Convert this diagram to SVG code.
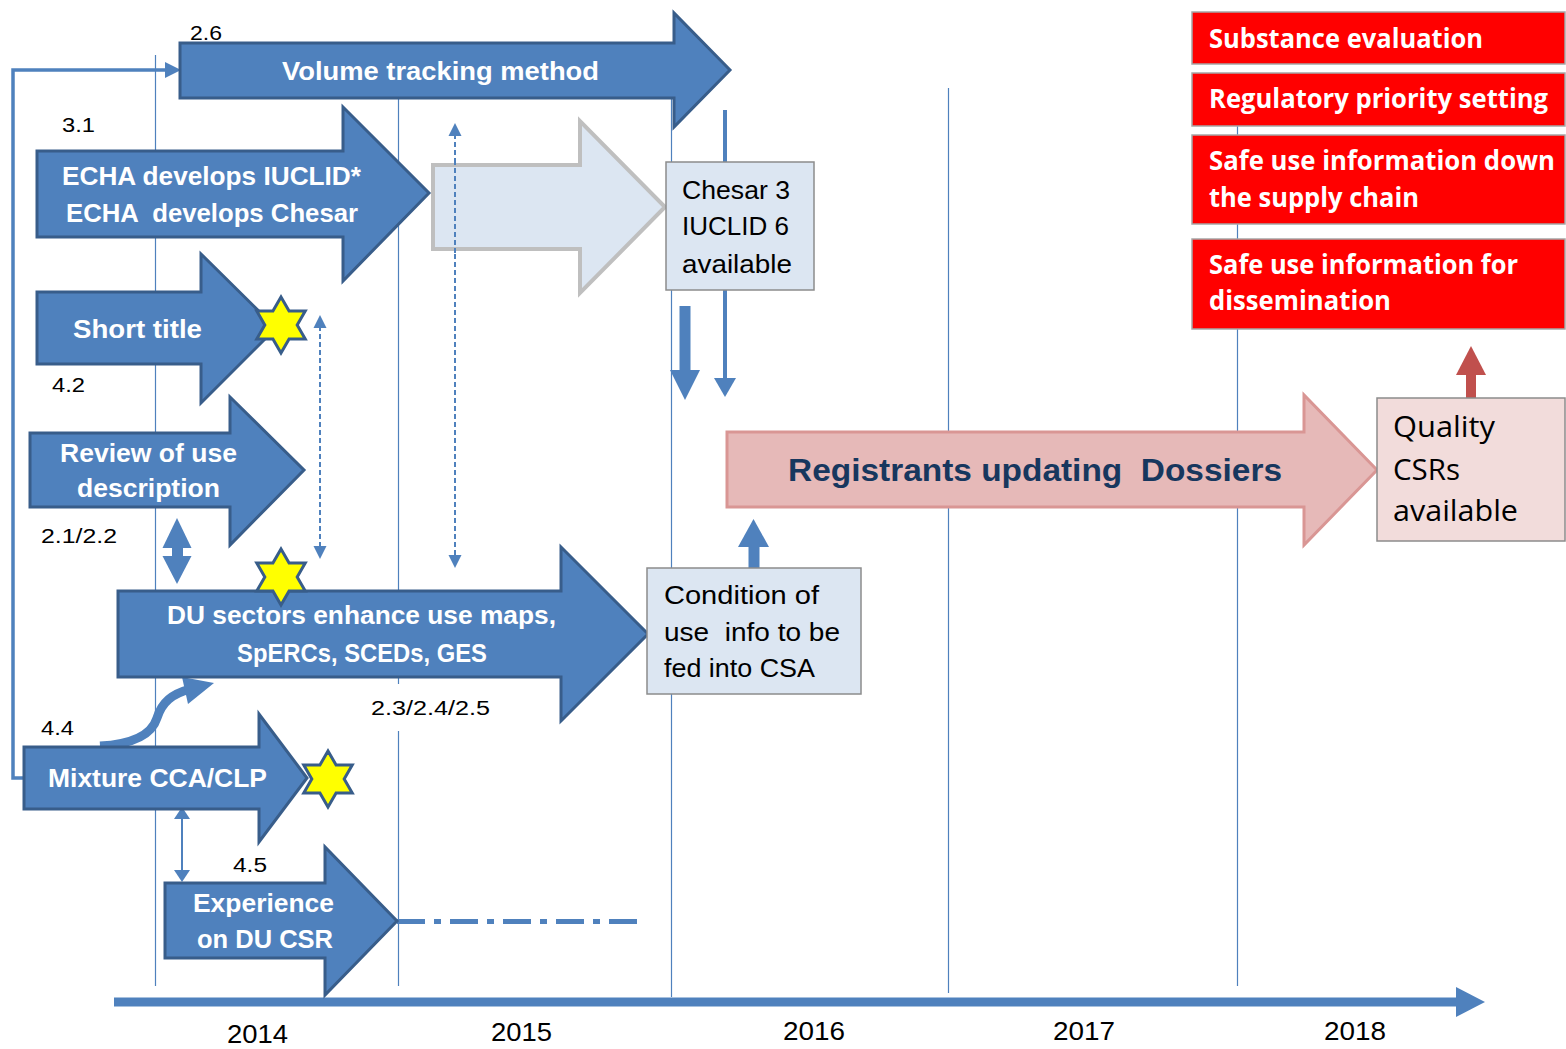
<svg xmlns="http://www.w3.org/2000/svg" width="1566" height="1049" viewBox="0 0 1566 1049">
<style>
.grid{stroke:#4f81bd;stroke-width:1.2;fill:none}
.barrow{fill:#4f81bd;stroke:#385d8a;stroke-width:3;stroke-linejoin:miter}
.wt{fill:#fff;font-family:"Liberation Sans",Arial,sans-serif;font-weight:bold;font-size:26px}
.bt{fill:#000;font-family:"Liberation Sans",Arial,sans-serif;font-size:26px}
.lbl{fill:#000;font-family:"Liberation Sans",Arial,sans-serif;font-size:20px}
.yr{fill:#000;font-family:"Liberation Sans",Arial,sans-serif;font-size:26px}
.rt{fill:#fff;font-family:"Open Sans","Liberation Sans",sans-serif;font-weight:bold;font-size:26px}
.qt{fill:#000;font-family:"Open Sans","Liberation Sans",sans-serif;font-size:29px}
.redbox{fill:#ff0000;stroke:#a6a6a6;stroke-width:1.5}
.lbox{fill:#dce6f2;stroke:#8c8c8c;stroke-width:1.5}
.conn{stroke:#4f81bd;fill:none}
.fillb{fill:#4f81bd}
.star{fill:#ffff00;stroke:#385d8a;stroke-width:3;stroke-linejoin:miter}
.pre{white-space:pre}
</style>
<defs>
<path id="hex" d="M0,-28 L8.08,-14 L24.25,-14 L16.17,0 L24.25,14 L8.08,14 L0,28 L-8.08,14 L-24.25,14 L-16.17,0 L-24.25,-14 L-8.08,-14 Z"/>
</defs>
<rect width="1566" height="1049" fill="#fff"/>

<g id="gridlines">
<line class="grid" x1="155.5" y1="55" x2="155.5" y2="986"/>
<line class="grid" x1="398.5" y1="55" x2="398.5" y2="986"/>
<line class="grid" x1="671.5" y1="55" x2="671.5" y2="997"/>
<line class="grid" x1="948.5" y1="88" x2="948.5" y2="993"/>
<line class="grid" x1="1237.5" y1="118" x2="1237.5" y2="986"/>
</g>

<g id="labels">
<text class="lbl" x="190" y="40" textLength="32" lengthAdjust="spacingAndGlyphs">2.6</text>
<text class="lbl" x="62" y="132" textLength="33" lengthAdjust="spacingAndGlyphs">3.1</text>
<text class="lbl" x="52" y="392" textLength="33" lengthAdjust="spacingAndGlyphs">4.2</text>
<text class="lbl" x="41" y="543" textLength="76" lengthAdjust="spacingAndGlyphs">2.1/2.2</text>
<rect x="366" y="684" width="128" height="47" fill="#fff"/>
<text class="lbl" x="371" y="715" textLength="119" lengthAdjust="spacingAndGlyphs">2.3/2.4/2.5</text>
<text class="lbl" x="41" y="735" textLength="33" lengthAdjust="spacingAndGlyphs">4.4</text>
<text class="lbl" x="233" y="872" textLength="34" lengthAdjust="spacingAndGlyphs">4.5</text>
</g>

<g id="connectors">
<path class="conn" stroke-width="3.5" d="M24,778 H13 V70 H168"/>
<polygon class="fillb" points="165,62 181,70 165,78"/>
<line class="conn" stroke-width="2" stroke-dasharray="5 3" x1="320" y1="326" x2="320" y2="548"/>
<polygon class="fillb" points="320,315 326.5,328 313.5,328"/>
<polygon class="fillb" points="320,559 326.5,546 313.5,546"/>
<line class="conn" stroke-width="2" stroke-dasharray="5 3" x1="455" y1="134" x2="455" y2="557"/>
<polygon class="fillb" points="455,123 461.5,136 448.5,136"/>
<polygon class="fillb" points="455,568 461.5,555 448.5,555"/>
<line class="conn" stroke-width="4" x1="725" y1="110" x2="725" y2="380"/>
<polygon class="fillb" points="714,378 736,378 725,397"/>
<rect class="fillb" x="679.5" y="306" width="11" height="66"/>
<polygon class="fillb" points="670,370 700,370 685,400"/>
<rect class="fillb" x="748.5" y="543" width="11" height="26"/>
<polygon class="fillb" points="738,547 769,547 753.5,519"/>
<rect class="fillb" x="172" y="540" width="11" height="20"/>
<polygon class="fillb" points="162.5,548 191.5,548 177,518"/>
<polygon class="fillb" points="162.5,556 191.5,556 177,584"/>
<line class="conn" stroke-width="2" x1="182" y1="815" x2="182" y2="873"/>
<polygon class="fillb" points="182,807 190,819 174,819"/>
<polygon class="fillb" points="182,882 190,870 174,870"/>
<path class="conn" stroke-width="9" d="M100,746 C135,744 152,734 157,718 C162,702 172,694 190,689"/>
<polygon class="fillb" points="182,677 214,683 188,704"/>
<line class="conn" stroke-width="5" stroke-dasharray="28 9 7 9" x1="397" y1="921.5" x2="640" y2="921.5"/>
<rect x="1466" y="372" width="10" height="27" fill="#c0504d"/>
<polygon points="1456,375 1486,375 1471,346" fill="#c0504d"/>
<rect class="fillb" x="114" y="997.5" width="1346" height="9"/>
<polygon class="fillb" points="1456,987 1485,1002 1456,1017"/>
</g>

<g id="volume-tracking">
<polygon class="barrow" points="180,43 674,43 674,13 730,70 674,127 674,98 180,98"/>
<text class="wt" x="282" y="80" textLength="317" lengthAdjust="spacingAndGlyphs">Volume tracking method</text>
</g>

<g id="echa-develops">
<polygon class="barrow" points="37,151 343,151 343,107 429,193 343,281 343,237 37,237"/>
<text class="wt" x="62" y="185" textLength="299" lengthAdjust="spacingAndGlyphs">ECHA develops IUCLID*</text>
<text class="wt pre" x="66" y="222" textLength="292" lengthAdjust="spacingAndGlyphs" xml:space="preserve">ECHA  develops Chesar</text>
</g>

<g id="light-arrow">
<polygon points="433,165 580,165 580,121 665,207 580,293 580,249 433,249" fill="#dce6f2" stroke="#bfbfbf" stroke-width="4"/>
</g>

<g id="dashed-over">
<line class="conn" stroke-width="2" stroke-dasharray="5 3" x1="455" y1="160" x2="455" y2="255"/>
</g>

<g id="chesar-box">
<rect class="lbox" x="666" y="162" width="148" height="128"/>
<text class="bt" x="682" y="199" textLength="108" lengthAdjust="spacingAndGlyphs">Chesar 3</text>
<text class="bt" x="682" y="235" textLength="107" lengthAdjust="spacingAndGlyphs">IUCLID 6</text>
<text class="bt" x="682" y="273" textLength="110" lengthAdjust="spacingAndGlyphs">available</text>
</g>

<g id="short-title">
<polygon class="barrow" points="37,292 201,292 201,254 276,328 201,403 201,364 37,364"/>
<text class="wt" x="73" y="338" textLength="129" lengthAdjust="spacingAndGlyphs">Short title</text>
<use href="#hex" class="star" transform="translate(281,325)"/>
</g>

<g id="review-use">
<polygon class="barrow" points="30,433 230,433 230,397 304,470 230,545 230,507 30,507"/>
<text class="wt" x="60" y="462" textLength="177" lengthAdjust="spacingAndGlyphs">Review of use</text>
<text class="wt" x="77" y="497" textLength="143" lengthAdjust="spacingAndGlyphs">description</text>
</g>

<g id="du-sectors">
<polygon class="barrow" points="118,591 561,591 561,547 648,634 561,721 561,677 118,677"/>
<text class="wt" x="167" y="624" textLength="389" lengthAdjust="spacingAndGlyphs">DU sectors enhance use maps,</text>
<text class="wt" x="237" y="662" textLength="250" lengthAdjust="spacingAndGlyphs">SpERCs, SCEDs, GES</text>
<use href="#hex" class="star" transform="translate(281,577)"/>
</g>

<g id="condition-box">
<rect class="lbox" x="647" y="568" width="214" height="126"/>
<text class="bt" x="664" y="604" textLength="155" lengthAdjust="spacingAndGlyphs">Condition of</text>
<text class="bt pre" x="664" y="641" textLength="176" lengthAdjust="spacingAndGlyphs" xml:space="preserve">use  info to be</text>
<text class="bt" x="664" y="677" textLength="151" lengthAdjust="spacingAndGlyphs">fed into CSA</text>
</g>

<g id="mixture">
<polygon class="barrow" points="24,747 259,747 259,714 307,778 259,842 259,809 24,809"/>
<text class="wt" x="48" y="787" textLength="219" lengthAdjust="spacingAndGlyphs">Mixture CCA/CLP</text>
<use href="#hex" class="star" transform="translate(328,779)"/>
</g>

<g id="experience">
<polygon class="barrow" points="165,883 325,883 325,847 397,921 325,995 325,958 165,958"/>
<text class="wt" x="193" y="912" textLength="141" lengthAdjust="spacingAndGlyphs">Experience</text>
<text class="wt" x="197" y="948" textLength="136" lengthAdjust="spacingAndGlyphs">on DU CSR</text>
</g>

<g id="registrants">
<polygon points="727,432 1304,432 1304,395 1377,470 1304,545 1304,507 727,507" fill="#e6b9b8" stroke="#d99694" stroke-width="3"/>
<text class="pre" x="788" y="481" textLength="494" lengthAdjust="spacingAndGlyphs" xml:space="preserve" style="fill:#17375e;font-family:'Liberation Sans',Arial,sans-serif;font-weight:bold;font-size:31px">Registrants updating  Dossiers</text>
</g>

<g id="quality-box">
<rect x="1377" y="398" width="188" height="143" fill="#f2dcdb" stroke="#8c8c8c" stroke-width="1.5"/>
<text class="qt" x="1393" y="437" textLength="102" lengthAdjust="spacingAndGlyphs">Quality</text>
<text class="qt" x="1393" y="480" textLength="67" lengthAdjust="spacingAndGlyphs">CSRs</text>
<text class="qt" x="1393" y="521" textLength="125" lengthAdjust="spacingAndGlyphs">available</text>
</g>

<g id="substance-evaluation">
<rect class="redbox" x="1192" y="12" width="373" height="52"/>
<text class="rt" x="1209" y="48" textLength="274" lengthAdjust="spacingAndGlyphs">Substance evaluation</text>
</g>
<g id="regulatory-priority">
<rect class="redbox" x="1192" y="73" width="373" height="53"/>
<text class="rt" x="1209" y="108" textLength="339" lengthAdjust="spacingAndGlyphs">Regulatory priority setting</text>
</g>
<g id="safe-use-supply">
<rect class="redbox" x="1192" y="135" width="373" height="89"/>
<text class="rt" x="1209" y="170" textLength="346" lengthAdjust="spacingAndGlyphs">Safe use information down</text>
<text class="rt" x="1209" y="207" textLength="210" lengthAdjust="spacingAndGlyphs">the supply chain</text>
</g>
<g id="safe-use-dissemination">
<rect class="redbox" x="1192" y="239" width="373" height="90"/>
<text class="rt" x="1209" y="274" textLength="309" lengthAdjust="spacingAndGlyphs">Safe use information for</text>
<text class="rt" x="1209" y="310" textLength="182" lengthAdjust="spacingAndGlyphs">dissemination</text>
</g>

<g id="years">
<text class="yr" x="227" y="1043" textLength="61" lengthAdjust="spacingAndGlyphs">2014</text>
<text class="yr" x="491" y="1041" textLength="61" lengthAdjust="spacingAndGlyphs">2015</text>
<text class="yr" x="783" y="1040" textLength="62" lengthAdjust="spacingAndGlyphs">2016</text>
<text class="yr" x="1053" y="1040" textLength="62" lengthAdjust="spacingAndGlyphs">2017</text>
<text class="yr" x="1324" y="1040" textLength="62" lengthAdjust="spacingAndGlyphs">2018</text>
</g>
</svg>
